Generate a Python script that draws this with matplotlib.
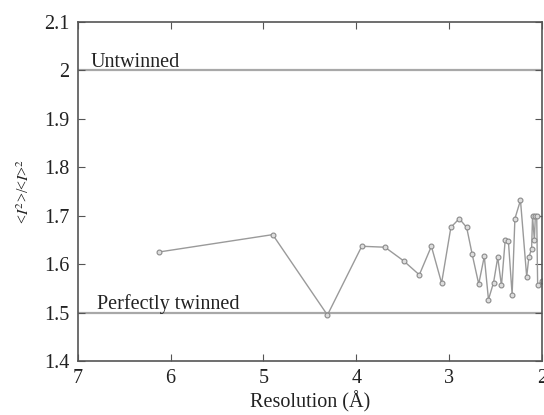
import matplotlib
matplotlib.use("Agg")
import matplotlib.pyplot as plt
from matplotlib.ticker import FuncFormatter

# resolution shells (A) and <I^2>/<I>^2
resolution = [6.13, 4.90, 4.31, 3.94, 3.69, 3.49, 3.32, 3.19, 3.08, 2.98,
              2.89, 2.81, 2.75, 2.68, 2.62, 2.575, 2.52, 2.475, 2.435, 2.395,
              2.36, 2.32, 2.29, 2.23, 2.163, 2.14, 2.11, 2.10, 2.08, 2.07,
              2.055, 2.045, 2.0]
moment = [1.625, 1.661, 1.495, 1.637, 1.635, 1.607, 1.578, 1.637, 1.561, 1.676,
          1.694, 1.676, 1.620, 1.559, 1.616, 1.527, 1.562, 1.614, 1.556, 1.649,
          1.647, 1.537, 1.694, 1.732, 1.574, 1.614, 1.632, 1.699, 1.649, 1.699,
          1.699, 1.556, 1.565]

untwinned = 2.0
twinned = 1.5

plt.rcParams['font.family'] = ['Liberation Serif', 'DejaVu Serif']
plt.rcParams['mathtext.fontset'] = 'stix'

fig = plt.figure(figsize=(5.44, 4.15), dpi=100)
ax = fig.add_axes([0.143, 0.130, 0.853, 0.817])

ax.axhline(untwinned, color='#a8a8a8', lw=1.6, zorder=1)
ax.axhline(twinned, color='#a8a8a8', lw=1.6, zorder=1)
ax.text(6.86, untwinned + 0.008, 'Untwinned', fontsize=14.5, color='#222222')
ax.text(6.79, twinned + 0.008, 'Perfectly twinned', fontsize=14.5, color='#222222')

ax.plot(resolution, moment, '-o', color='#9a9a9a', lw=1.0, ms=3.5,
        mfc='#dddddd', mec='#8a8a8a', mew=0.8, zorder=2)

ax.set_xlim(7, 2)
ax.set_ylim(1.4, 2.1)
ax.set_xticks([7, 6, 5, 4, 3, 2])
ax.set_yticks([1.4, 1.5, 1.6, 1.7, 1.8, 1.9, 2.0, 2.1])
ax.yaxis.set_major_formatter(FuncFormatter(lambda v, p: '%g' % round(v, 1)))
ax.tick_params(direction='in', top=True, right=True, length=5, width=0.8,
               colors='#555555', labelcolor='#222222', labelsize=14.5, pad=6)
for s in ax.spines.values():
    s.set_color('#555555')
    s.set_linewidth(1.2)

ax.set_xlabel('Resolution (Å)', fontsize=14.5, color='#222222', labelpad=2)
ax.set_ylabel(r'<$I^2$>/<$I$>$^2$', fontsize=11.5, color='#222222', labelpad=8)

fig.savefig('out.png', dpi=100)
